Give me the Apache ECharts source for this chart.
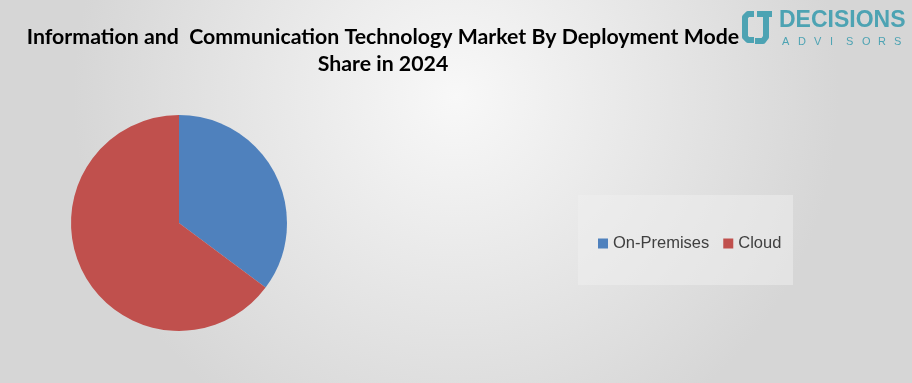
<!DOCTYPE html>
<html><head><meta charset="utf-8">
<script src="https://cdn.jsdelivr.net/npm/echarts@6/dist/echarts.min.js"></script>
<style>html,body{margin:0;padding:0;}#c{width:912px;height:383px;}</style>
</head><body><div id="c"></div>
<script>
const categories = ['On-Premises', 'Cloud'];
const shares = [35.2, 64.8];
const colors = ['#4f81bd', '#c0504d'];
const titleLines = ['Information and  Communication Technology Market By Deployment Mode', 'Share in 2024'];
const logoSub = ['A', 'D', 'V', 'I', 'S', 'O', 'R', 'S'];

const chart = echarts.init(document.getElementById('c'));
const graphics = [
  {type: 'rect', left: 578, top: 195, shape: {width: 215, height: 90}, style: {fill: 'rgba(240,240,240,0.5)'}, z: -1},
  {type: 'polyline', shape: {points: [[754,14],[748,14],[745,17],[745,37],[748,40],[754,40]]}, style: {stroke: '#4da3b3', lineWidth: 6, fill: null, lineJoin: 'round'}},
  {type: 'polyline', shape: {points: [[757,14],[772,14]]}, style: {stroke: '#4da3b3', lineWidth: 6, fill: null}},
  {type: 'polyline', shape: {points: [[766,14],[766,37],[763,41],[755,41]]}, style: {stroke: '#4da3b3', lineWidth: 6, fill: null, lineJoin: 'round'}},
  {type: 'text', left: 779, top: 9, style: {text: 'DECISIONS', fontFamily: 'Liberation Sans', fontWeight: 'bold', fontSize: 23, fill: '#4da3b3'}}
];
logoSub.forEach((ch, i) => graphics.push({type: 'text', left: 782 + i * 16, top: 36, style: {text: ch, fontFamily: 'Liberation Sans', fontSize: 11, fill: '#4da3b3'}}));

chart.setOption({
  backgroundColor: {
    type: 'radial', x: 0.5, y: 0.25, r: 1.0,
    colorStops: [{offset: 0, color: '#f8f8f8'}, {offset: 1, color: '#d6d6d6'}]
  },
  animation: false,
  title: {
    text: titleLines.join('\n'),
    left: 378, top: 19, textAlign: 'center',
    textStyle: {fontFamily: 'Lato', fontWeight: 'bold', fontSize: 21.3, lineHeight: 27, color: '#000'}
  },
  legend: {
    data: categories,
    left: 593, top: 230, itemWidth: 10, itemHeight: 10, itemGap: 14, itemStyle: {borderWidth: 0}, icon: 'rect',
    textStyle: {fontFamily: 'Liberation Sans', fontSize: 16.5, color: '#404040'}
  },
  graphic: graphics,
  series: [{
    type: 'pie',
    center: [179, 223], radius: 108,
    startAngle: 90, clockwise: true,
    label: {show: false}, labelLine: {show: false},
    data: categories.map((n, i) => ({name: n, value: shares[i], itemStyle: {color: colors[i]}}))
  }]
});
</script></body></html>
